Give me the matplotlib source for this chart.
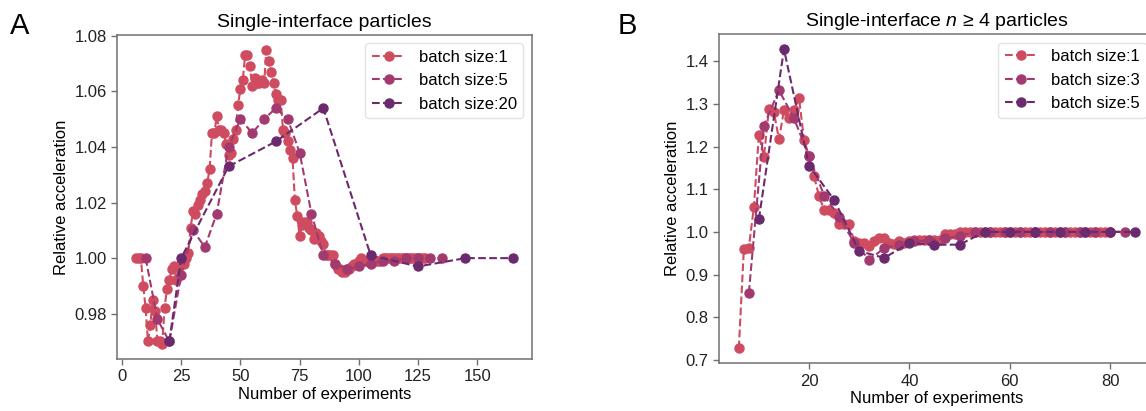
import matplotlib
matplotlib.use("Agg")
import matplotlib.pyplot as plt

plt.rcParams['font.family'] = ['Liberation Sans', 'DejaVu Sans']
plt.rcParams['mathtext.fontset'] = 'custom'
plt.rcParams['mathtext.it'] = 'Liberation Sans:italic'
plt.rcParams['mathtext.rm'] = 'Liberation Sans'

# ---- Panel A data ----
a_x1 = list(range(6, 129))
a_y1 = [1.000, 1.000, 1.000, 0.990, 0.982, 0.970, 0.976, 0.985, 0.981, 0.970,
        0.970, 0.969, 0.982, 0.989, 0.992, 0.996, 0.997, 0.992, 0.997, 0.998,
        0.998, 1.000, 1.002, 1.011, 1.017, 1.016, 1.019, 1.021, 1.023, 1.024,
        1.027, 1.032, 1.045, 1.045, 1.051, 1.046, 1.046, 1.045, 1.041, 1.037,
        1.038, 1.043, 1.046, 1.055, 1.061, 1.064, 1.073, 1.073, 1.069, 1.062,
        1.065, 1.063, 1.063, 1.064, 1.063, 1.075, 1.071, 1.067, 1.063, 1.059,
        1.057, 1.057, 1.046, 1.045, 1.042, 1.039, 1.036, 1.021, 1.015, 1.008,
        1.012, 1.013, 1.013, 1.011, 1.010, 1.007, 1.009, 1.008, 1.006, 1.005,
        1.001, 1.001, 1.001, 1.001, 0.998, 0.996, 0.996, 0.995, 0.995, 0.996,
        0.996, 0.997, 0.998, 0.998, 0.999, 1.000,
        0.999, 0.999, 0.999, 0.999, 0.999, 0.999, 0.999, 0.999,
        1.000, 1.000, 1.000, 1.000, 1.000, 1.000, 1.000, 1.000, 1.000, 1.000,
        1.000, 1.000, 1.000, 1.000, 1.000, 1.000, 1.000, 1.000, 1.000]
a_x5 = list(range(10, 136, 5))
a_y5 = [1.000, 0.978, 0.970, 0.994, 1.010, 1.004, 1.016, 1.040, 1.050, 1.045,
        1.050, 1.054, 1.050, 1.038, 1.016, 1.001, 0.998, 0.996, 0.997, 0.998,
        0.999, 0.999, 1.000, 1.000, 1.000, 1.000]
a_x20 = [20, 25, 45, 65, 85, 105, 125, 145, 165]
a_y20 = [0.970, 1.000, 1.033, 1.042, 1.054, 1.001, 0.997, 1.000, 1.000]

# ---- Panel B data ----
b_x1 = list(range(6, 81))
b_y1 = [0.727, 0.959, 0.963, 1.058, 1.228, 1.176, 1.288, 1.280, 1.217, 1.285,
        1.266, 1.285, 1.313, 1.216, 1.177, 1.130, 1.083, 1.052, 1.052, 1.044,
        1.018, 1.018, 1.018, 0.978, 0.974, 0.974, 0.966, 0.978, 0.986, 0.986,
        0.975, 0.972, 0.978, 0.974, 0.978, 0.980, 0.980, 0.980, 0.980, 0.982,
        0.982, 0.994, 0.994, 0.994,
        1.000, 1.000, 1.000, 1.000, 1.000, 1.000, 1.000, 1.000, 1.000, 1.000,
        1.000, 1.000, 1.000, 1.000, 1.000, 1.000, 1.000, 1.000, 1.000, 1.000,
        1.000, 1.000, 1.000, 1.000, 1.000, 1.000, 1.000, 1.000, 1.000, 1.000,
        1.000]
b_x3 = list(range(8, 84, 3))
b_y3 = [0.857, 1.249, 1.332, 1.266, 1.177, 1.085, 1.036, 0.974, 0.935, 0.962,
        0.970, 0.978, 0.980, 0.985, 0.990, 1.000, 1.000, 1.000, 1.000, 1.000,
        1.000, 1.000, 1.000, 1.000, 1.000, 1.000]
b_x5 = list(range(10, 86, 5))
b_y5 = [1.030, 1.428, 1.155, 1.075, 0.955, 0.939, 0.974, 0.970, 0.970,
        1.000, 1.000, 1.000, 1.000, 1.000, 1.000, 1.000]

labels_a = ['batch size:1', 'batch size:5', 'batch size:20']
labels_b = ['batch size:1', 'batch size:3', 'batch size:5']
colors = ['#cf4b5f', '#a23a70', '#6b2a6e']

W, H = 1146, 411
fig = plt.figure(figsize=(W / 100, H / 100), dpi=100)

def px_axes(x0, x1, y0, y1):
    return fig.add_axes([x0 / W, 1 - y1 / H, (x1 - x0) / W, (y1 - y0) / H])

axA = px_axes(117.3, 531.7, 35, 359)
axB = px_axes(719, 1155, 34.3, 363.3)

def style(ax):
    for s in ax.spines.values():
        s.set_color('#707070')
        s.set_linewidth(1.1)
    ax.tick_params(direction='out', length=4, width=1, color='#707070',
                   labelsize=12, labelcolor='#222222')

for xs, ys, c, lab in zip([a_x1, a_x5, a_x20], [a_y1, a_y5, a_y20], colors, labels_a):
    axA.plot(xs, ys, linestyle='--', marker='o', color=c, lw=1.5, ms=6.5, label=lab)
for xs, ys, c, lab in zip([b_x1, b_x3, b_x5], [b_y1, b_y3, b_y5], colors, labels_b):
    axB.plot(xs, ys, linestyle='--', marker='o', color=c, lw=1.5, ms=6.5, label=lab)

axA.set_xticks([0, 25, 50, 75, 100, 125, 150])
axA.set_yticks([0.98, 1.00, 1.02, 1.04, 1.06, 1.08])
axA.set_yticklabels(['0.98', '1.00', '1.02', '1.04', '1.06', '1.08'])
axB.set_xticks([20, 40, 60, 80])
axB.set_yticks([0.7, 0.8, 0.9, 1.0, 1.1, 1.2, 1.3, 1.4])

for ax, title in [(axA, 'Single-interface particles'),
                  (axB, 'Single-interface $n$ \u2265 4 particles')]:
    style(ax)
    ax.set_title(title, fontsize=14, pad=6)
    ax.set_xlabel('Number of experiments', fontsize=12, labelpad=2)
    ax.set_ylabel('Relative acceleration', fontsize=12)
    leg = ax.legend(loc='upper right', fontsize=12, frameon=True)
    leg.get_frame().set_edgecolor('#dddddd')

fig.text(10 / W, 1 - 12 / H, 'A', fontsize=21, va='top', ha='left')
fig.text(618 / W, 1 - 12 / H, 'B', fontsize=21, va='top', ha='left')

fig.savefig('out.png', dpi=100)
